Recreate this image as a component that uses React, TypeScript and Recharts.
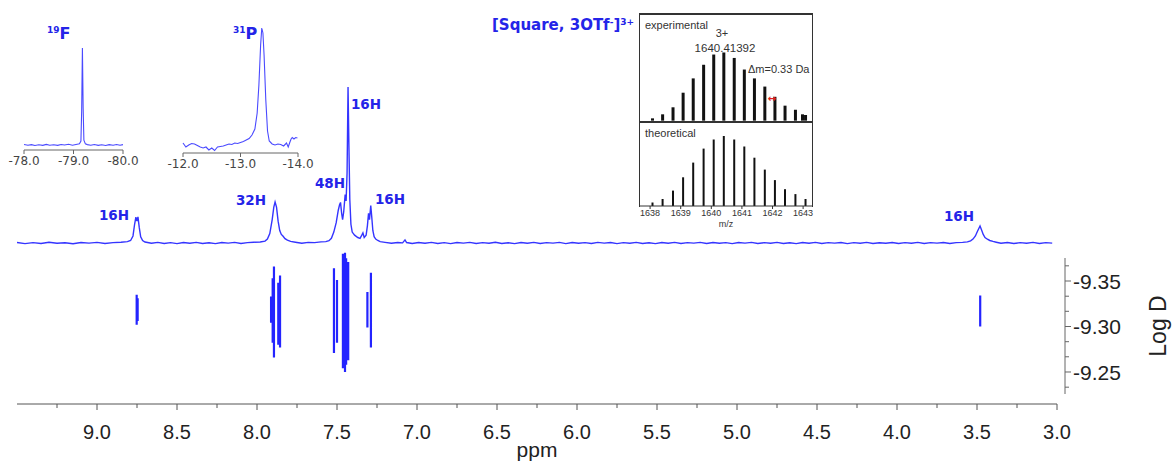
import React from "react";
import { LineChart, Line, BarChart, Bar, XAxis, YAxis } from "recharts";

// 1H spectrum: [ppm, intensity] (tallest peak = 100)
const protonSpectrum: [number, number][] = [
  [9.5, 0.3], [9.45, -0.4], [9.4, 0.2], [9.35, -0.3], [9.3, 0.5], [9.25, -0.2], [9.2, 0.1], [9.15, -0.5],
  [9.1, 0.3], [9.05, -0.1], [9.0, 0.4], [8.95, -0.3], [8.9, 0.2], [8.85, 0.5], [8.81, 0.9],
  [8.79, 1.6], [8.775, 4.5], [8.765, 12], [8.757, 16.5], [8.75, 14], [8.744, 16.7], [8.736, 10],
  [8.727, 4], [8.715, 1.6], [8.7, 0.6],
  [8.66, -0.2], [8.62, 0.4], [8.58, -0.3], [8.54, 0.2], [8.5, -0.4], [8.46, 0.3], [8.42, -0.2], [8.38, 0.4],
  [8.34, -0.3], [8.3, 0.1], [8.26, -0.4], [8.22, 0.3], [8.18, -0.1], [8.14, 0.4], [8.1, -0.3], [8.06, 0.2],
  [8.02, 0.5], [7.98, 0.6], [7.95, 1.2],
  [7.935, 2.5], [7.92, 6], [7.905, 15], [7.895, 23], [7.887, 26.3], [7.878, 23], [7.868, 14], [7.858, 8],
  [7.848, 5.5], [7.838, 4.5], [7.825, 2.8], [7.81, 1.8], [7.79, 1], [7.76, 0.5],
  [7.72, -0.2], [7.68, 0.4], [7.64, 0.2], [7.6, 0.7], [7.57, 0.9], [7.55, 1.5],
  [7.535, 3], [7.52, 7], [7.505, 13], [7.492, 21], [7.484, 24.5], [7.478, 26], [7.471, 19], [7.465, 15],
  [7.458, 20], [7.449, 31], [7.443, 27], [7.437, 45], [7.431, 100], [7.426, 65], [7.42, 28], [7.413, 12],
  [7.405, 7], [7.39, 5], [7.37, 3.5], [7.356, 3], [7.345, 5], [7.338, 6.4], [7.33, 3.5], [7.318, 5],
  [7.31, 11], [7.303, 19], [7.297, 15], [7.289, 24], [7.283, 17], [7.276, 8], [7.268, 4], [7.258, 2.5],
  [7.245, 1.6], [7.23, 0.9], [7.2, 0.4],
  [7.16, -0.2], [7.12, 0.3], [7.09, 0.1], [7.075, 2], [7.065, 0.3], [7.03, -0.3], [6.99, 0.3], [6.95, -0.2],
  [6.91, 0.4], [6.87, -0.3], [6.83, 0.2], [6.79, -0.4], [6.75, 0.3], [6.71, -0.1], [6.67, 0.4], [6.63, -0.3],
  [6.59, 0.2], [6.55, -0.2], [6.51, 0.5], [6.47, -0.3], [6.43, 0.1], [6.39, -0.4], [6.35, 0.3], [6.31, -0.2],
  [6.27, 0.4], [6.23, -0.3], [6.19, 0.2], [6.15, -0.1], [6.11, 0.4], [6.07, -0.4], [6.03, 0.3], [5.99, -0.2],
  [5.95, 0.2], [5.91, -0.3], [5.87, 0.4], [5.83, -0.1], [5.79, 0.3], [5.75, -0.4], [5.71, 0.2], [5.67, -0.2],
  [5.63, 0.4], [5.59, -0.3], [5.55, 0.1], [5.51, -0.4], [5.47, 0.3], [5.43, -0.2], [5.39, 0.4], [5.35, -0.3],
  [5.31, 0.2], [5.27, -0.1], [5.23, 0.4], [5.19, -0.3], [5.15, 0.3], [5.11, -0.2], [5.07, 0.2], [5.03, -0.4],
  [4.99, 0.3], [4.95, -0.1], [4.91, 0.4], [4.87, -0.3], [4.83, 0.2], [4.79, -0.2], [4.75, 0.4], [4.71, -0.3],
  [4.67, 0.1], [4.63, -0.4], [4.59, 0.3], [4.55, -0.2], [4.51, 0.4], [4.47, -0.3], [4.43, 0.2], [4.39, -0.1],
  [4.35, 0.3], [4.31, -0.4], [4.27, 0.2], [4.23, -0.2], [4.19, 0.4], [4.15, -0.3], [4.11, 0.1], [4.07, -0.2],
  [4.03, 0.3], [3.99, -0.3], [3.95, 0.2], [3.91, -0.2], [3.87, 0.4], [3.83, -0.3], [3.79, 0.2], [3.75, -0.1],
  [3.71, 0.3], [3.67, -0.3], [3.63, 0.2], [3.59, 0.4], [3.56, 0.7],
  [3.54, 1.4], [3.525, 2.5], [3.51, 4.5], [3.497, 7.5], [3.481, 10.9], [3.472, 8.5], [3.461, 5.5],
  [3.45, 3.5], [3.435, 2.4], [3.42, 1.6], [3.4, 1], [3.38, 0.5],
  [3.35, -0.2], [3.31, 0.3], [3.27, -0.3], [3.23, 0.2], [3.19, -0.2], [3.15, 0.4], [3.11, -0.3], [3.07, 0.2],
  [3.03, -0.1],
];

// DOSY cross peaks: [ppm, log D top, log D bottom]
const dosyContours: [number, number, number][] = [
  [8.752, -9.335, -9.302],
  [8.746, -9.331, -9.306],
  [7.912, -9.333, -9.304],
  [7.902, -9.353, -9.282],
  [7.894, -9.366, -9.266],
  [7.867, -9.348, -9.28],
  [7.856, -9.356, -9.277],
  [7.519, -9.364, -9.271],
  [7.5, -9.351, -9.282],
  [7.463, -9.38, -9.254],
  [7.456, -9.372, -9.259],
  [7.45, -9.381, -9.25],
  [7.443, -9.375, -9.258],
  [7.43, -9.371, -9.263],
  [7.31, -9.338, -9.299],
  [7.288, -9.359, -9.277],
  [3.48, -9.334, -9.3],
];

// 19F inset: [ppm, intensity]
const fluorineSpectrum: [number, number][] = [
  [-78.0, 0.5], [-78.08, -0.3], [-78.15, 0.4], [-78.22, -0.5], [-78.3, 0.2], [-78.38, -0.4], [-78.45, 0.6],
  [-78.52, -0.2], [-78.6, 0.3], [-78.68, -0.4], [-78.75, 0.5], [-78.82, 0], [-78.9, 0.7], [-78.98, -0.2],
  [-79.05, 0.6], [-79.12, 1.2], [-79.15, 4], [-79.165, 35], [-79.18, 100], [-79.195, 38], [-79.21, 5],
  [-79.24, 1.2], [-79.28, 0.4], [-79.35, -0.3], [-79.42, 0.5], [-79.5, -0.4], [-79.57, 0.3], [-79.65, -0.5],
  [-79.72, 0.4], [-79.8, -0.2], [-79.87, 0.5], [-79.94, -0.3], [-80.0, 0.4],
];

// 31P inset: [ppm, intensity]
const phosphorusSpectrum: [number, number][] = [
  [-12.0, 2], [-12.05, -2], [-12.1, 0], [-12.15, 1.5], [-12.2, 1], [-12.25, -0.5], [-12.3, -2], [-12.35, -3],
  [-12.4, -2], [-12.45, -5], [-12.5, -3], [-12.55, -5.5], [-12.6, -2], [-12.65, -1.5], [-12.7, -1], [-12.75, 0],
  [-12.8, 1], [-12.85, 0.5], [-12.9, 2], [-12.95, 1.5], [-13.0, 2.5], [-13.05, 3.5], [-13.1, 5], [-13.15, 6.5],
  [-13.2, 10], [-13.25, 16], [-13.29, 32], [-13.32, 60], [-13.35, 100], [-13.37, 117], [-13.39, 112],
  [-13.41, 90], [-13.44, 45], [-13.47, 14], [-13.5, 4], [-13.55, 1], [-13.6, 0], [-13.65, 1], [-13.7, 0.5],
  [-13.75, -1], [-13.8, 2], [-13.83, -2], [-13.86, 3], [-13.88, 6], [-13.9, 7.5], [-13.93, 6], [-13.96, 7.5],
  [-13.99, 7],
];

// ESI-MS isotope patterns: [m/z, relative intensity]
const experimentalPeaks: [number, number][] = [
  [1638.08, 3.4], [1638.41, 9.3], [1638.75, 19.6], [1639.08, 41], [1639.41, 62], [1639.75, 82],
  [1640.08, 97], [1640.41, 100], [1640.75, 92], [1641.08, 75], [1641.41, 62], [1641.75, 50],
  [1642.08, 35], [1642.41, 22], [1642.75, 16], [1642.98, 9.3], [1643.08, 8.3],
];
const theoreticalPeaks: [number, number][] = [
  [1638.08, 5], [1638.41, 10], [1638.75, 22], [1639.08, 41], [1639.41, 62], [1639.75, 82],
  [1640.08, 95], [1640.41, 100], [1640.75, 95], [1641.08, 85], [1641.41, 69], [1641.75, 52],
  [1642.08, 37], [1642.41, 24], [1642.75, 17], [1643.08, 10],
];

const ppmTicks = [9.25, 9, 8.75, 8.5, 8.25, 8, 7.75, 7.5, 7.25, 7, 6.75, 6.5, 6.25, 6, 5.75, 5.5, 5.25, 5, 4.75, 4.5, 4.25, 4, 3.75, 3.5, 3.25, 3];
const logDTicks = [-9.3667, -9.35, -9.3333, -9.3167, -9.3, -9.2833, -9.2667, -9.25, -9.2333];
const logDLabels = [-9.35, -9.3, -9.25];
const fluorineTicks = [-78, -79, -80];
const phosphorusTicks = [-12, -13, -14];
const mzTicks = [1638, 1639, 1640, 1641, 1642, 1643];

const protonData = protonSpectrum.map(([ppm, intensity]) => ({ ppm, intensity }));
const fluorineData = fluorineSpectrum.map(([ppm, intensity]) => ({ ppm, intensity }));
const phosphorusData = phosphorusSpectrum.map(([ppm, intensity]) => ({ ppm, intensity }));
const contourData = dosyContours.flatMap(([ppm, top, bottom]) => [
  { ppm, logD: top },
  { ppm, logD: bottom },
  { ppm, logD: null },
]);
const experimentalData = experimentalPeaks.map(([mz, intensity]) => ({ mz, intensity }));
const theoreticalData = theoreticalPeaks.map(([mz, intensity]) => ({ mz, intensity }));

const SPEC_BLUE = "#3434ff";
const LABEL_BLUE = "#2424e8";
const noMargin = { top: 0, right: 0, bottom: 0, left: 0 };

function PpmTick(props: any) {
  const { x, y, payload } = props;
  const major = Number.isInteger(Math.round(payload.value * 100) / 50);
  return (
    <g>
      <line x1={x} y1={y} x2={x} y2={y + (major ? 6 : 4)} stroke="#555" />
      {major && (
        <text x={x} y={y + 35} textAnchor="middle" fontSize={20} fill="#222" fontFamily="Arial">
          {payload.value.toFixed(1)}
        </text>
      )}
    </g>
  );
}

function LogDTick(props: any) {
  const { x, y, payload } = props;
  const major = logDLabels.some((v) => Math.abs(v - payload.value) < 1e-6);
  return (
    <g>
      <line x1={x} y1={y} x2={x + (major ? 6 : 4)} y2={y} stroke="#666" />
      {major && (
        <text x={x + 8} y={y} dy="0.36em" fontSize={21} fill="#222" fontFamily="Arial">
          {payload.value.toFixed(2)}
        </text>
      )}
    </g>
  );
}

const box = (left: number, top: number): React.CSSProperties => ({ position: "absolute", left, top });

export default function App() {
  return (
    <div
      style={{
        position: "absolute", left: 0, top: 0, width: 1172, height: 463,
        overflow: "hidden", background: "#fff", fontFamily: "Arial, sans-serif",
      }}
    >
      {/* 1H spectrum */}
      <div style={box(0, 80)}>
        <LineChart width={1100} height={170} data={protonData} margin={{ top: 0, right: 43, bottom: 0, left: 17 }}>
          <XAxis dataKey="ppm" type="number" domain={[3, 9.5]} reversed hide allowDataOverflow />
          <YAxis type="number" domain={[-4.5, 104.5]} hide allowDataOverflow />
          <Line dataKey="intensity" stroke={SPEC_BLUE} strokeWidth={1.4} dot={false} isAnimationActive={false} />
        </LineChart>
      </div>

      {/* DOSY contours + ppm axis */}
      <div style={box(0, 250)}>
        <LineChart width={1100} height={213} data={contourData} margin={{ top: 0, right: 43, bottom: 0, left: 17 }}>
          <XAxis
            dataKey="ppm" type="number" domain={[3, 9.5]} reversed allowDataOverflow
            ticks={ppmTicks} interval={0} tick={<PpmTick />} tickLine={false} tickSize={0} tickMargin={0}
            axisLine={{ stroke: "#555" }} height={59}
            label={{ value: "ppm", position: "insideBottom", offset: 6, fontSize: 21, fill: "#222" }}
          />
          <YAxis type="number" domain={[-9.3841, -9.2148]} reversed hide allowDataOverflow />
          <Line dataKey="logD" stroke="#2424ff" strokeWidth={2.2} dot={false} connectNulls={false} isAnimationActive={false} />
        </LineChart>
      </div>

      {/* log D axis */}
      <div style={box(1060, 258)}>
        <LineChart width={191} height={136} data={contourData} margin={noMargin}>
          <XAxis dataKey="ppm" type="number" domain={[3, 9.5]} hide />
          <YAxis
            orientation="right" type="number" domain={[-9.3753, -9.2258]} reversed allowDataOverflow
            ticks={logDTicks} interval={0} tick={<LogDTick />} tickLine={false} tickSize={0} tickMargin={0}
            axisLine={{ stroke: "#666" }} width={186}
            label={{ value: "Log D", angle: -90, position: "center", fontSize: 23, fill: "#222" }}
          />
          <Line dataKey="logD" stroke="none" dot={false} isAnimationActive={false} />
        </LineChart>
      </div>

      {/* 19F inset */}
      <div style={box(4, 45)}>
        <LineChart width={139} height={125} data={fluorineData} margin={{ top: 0, right: 20, bottom: 0, left: 20 }}>
          <XAxis
            dataKey="ppm" type="number" domain={[-80, -78]} reversed ticks={fluorineTicks} interval={0}
            tickFormatter={(v: number) => v.toFixed(1)} tickSize={4} tickMargin={2} height={20}
            tick={{ fontSize: 12, fill: "#444", fontFamily: "DejaVu Sans" }}
            axisLine={{ stroke: "#666" }} tickLine={{ stroke: "#666" }}
          />
          <YAxis type="number" domain={[-5.15, 103.1]} hide allowDataOverflow />
          <Line dataKey="intensity" stroke="#4a4aff" strokeWidth={1.1} dot={false} isAnimationActive={false} />
        </LineChart>
      </div>

      {/* 31P inset */}
      <div style={box(163, 25)}>
        <LineChart width={155} height={148} data={phosphorusData} margin={{ top: 0, right: 20, bottom: 0, left: 20 }}>
          <XAxis
            dataKey="ppm" type="number" domain={[-14, -12]} reversed ticks={phosphorusTicks} interval={0}
            tickFormatter={(v: number) => v.toFixed(1)} tickSize={4} tickMargin={2} height={20}
            tick={{ fontSize: 12, fill: "#444", fontFamily: "DejaVu Sans" }}
            axisLine={{ stroke: "#666" }} tickLine={{ stroke: "#666" }}
          />
          <YAxis type="number" domain={[-8, 120]} hide allowDataOverflow />
          <Line dataKey="intensity" stroke="#4a4aff" strokeWidth={1.1} dot={false} isAnimationActive={false} />
        </LineChart>
      </div>

      {/* MS frame */}
      <div
        style={{
          ...box(639, 13), width: 174, height: 194, boxSizing: "border-box",
          borderTop: "2.5px solid #333", borderLeft: "1.5px solid #333", borderRight: "1.5px solid #333",
        }}
      />
      <div style={{ ...box(639, 120.5), width: 174, height: 2, background: "#333" }} />

      {/* experimental */}
      <div style={box(640, 15)}>
        <BarChart width={172} height={106} data={experimentalData} margin={noMargin}>
          <XAxis dataKey="mz" type="number" domain={[1637.67, 1643.29]} hide allowDataOverflow />
          <YAxis type="number" domain={[-0.5, 155]} hide allowDataOverflow />
          <Bar dataKey="intensity" fill="#111" barSize={3} isAnimationActive={false} />
        </BarChart>
      </div>

      {/* theoretical */}
      <div style={box(640, 122)}>
        <BarChart width={180} height={114} data={theoreticalData} margin={{ top: 0, right: 8, bottom: 0, left: 0 }}>
          <XAxis
            dataKey="mz" type="number" domain={[1637.67, 1643.29]} allowDataOverflow ticks={mzTicks} interval={0}
            tickSize={3} tickMargin={1} height={30} tick={{ fontSize: 9, fill: "#333" }}
            axisLine={{ stroke: "#333" }} tickLine={{ stroke: "#333" }}
            label={{ value: "m/z", position: "insideBottom", offset: 9, fontSize: 9, fill: "#333" }}
          />
          <YAxis type="number" domain={[0, 120]} hide allowDataOverflow />
          <Bar dataKey="intensity" fill="#111" barSize={2} isAnimationActive={false} />
        </BarChart>
      </div>

      {/* annotations */}
      <svg width={1172} height={463} style={{ position: "absolute", left: 0, top: 0, pointerEvents: "none" }}>
        <g fontFamily="DejaVu Sans" fontWeight="bold" fill={LABEL_BLUE}>
          <text x={492} y={30} fontSize={15}>
            [Square, 3OTf<tspan fontSize={9} dy={-5}>-</tspan>
            <tspan fontSize={15} dy={5}>]</tspan>
            <tspan fontSize={9} dy={-5}>3+</tspan>
          </text>
          <text x={47} y={39}>
            <tspan fontSize={9} dy={-6}>19</tspan>
            <tspan fontSize={16} dy={6}>F</tspan>
          </text>
          <text x={233} y={39}>
            <tspan fontSize={9} dy={-6}>31</tspan>
            <tspan fontSize={16} dy={6}>P</tspan>
          </text>
          <g fontSize={13.5} textAnchor="middle">
            <text x={114} y={220}>16H</text>
            <text x={251} y={205}>32H</text>
            <text x={330} y={188}>48H</text>
            <text x={366} y={109}>16H</text>
            <text x={390} y={204}>16H</text>
            <text x={959} y={221}>16H</text>
          </g>
        </g>
        <g fontFamily="Arial" fontSize={11} fill="#333">
          <text x={645} y={28.5}>experimental</text>
          <text x={722} y={37} textAnchor="middle">3+</text>
          <text x={725} y={52} fontSize={11.5} textAnchor="middle">1640.41392</text>
          <text x={748} y={73}>Δm=0.33 Da</text>
          <text x={645} y={137}>theoretical</text>
        </g>
        <text x={772} y={101.5} textAnchor="middle" fontSize={10} fontWeight="bold" fill="#e02020" fontFamily="DejaVu Sans">↔</text>
      </svg>
    </div>
  );
}
